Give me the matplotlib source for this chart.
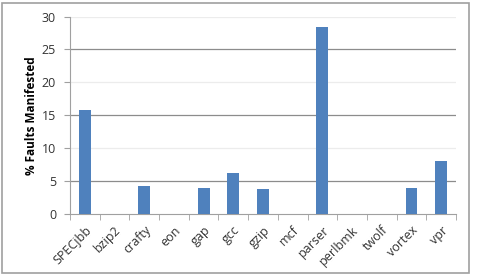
import matplotlib
matplotlib.use("Agg")
import matplotlib.pyplot as plt
from matplotlib.patches import Rectangle

benchmarks = ['SPECjbb', 'bzip2', 'crafty', 'eon', 'gap', 'gcc', 'gzip',
              'mcf', 'parser', 'perlbmk', 'twolf', 'vortex', 'vpr']
faults = [15.8, 0, 4.2, 0, 3.9, 6.2, 3.8, 0, 28.4, 0, 0, 3.9, 8.1]
yticks = [0, 5, 10, 15, 20, 25, 30]

plt.rcParams['font.family'] = ['Open Sans', 'DejaVu Sans']

fig = plt.figure(figsize=(4.78, 2.76), dpi=100)
ax = fig.add_axes([70 / 478, 1 - 214 / 276, (456 - 70) / 478, (214 - 16.5) / 276])

# outer chart frame
fig.patches.append(Rectangle((2 / 478, 3 / 276), 467 / 478, 270 / 276,
                             transform=fig.transFigure, fill=False,
                             edgecolor='#a0a0a0', linewidth=1.2))

x = range(len(benchmarks))
ax.bar(x, faults, width=0.4, color='#4f81bd', zorder=3)

ax.set_xlim(-0.5, len(benchmarks) - 0.5)
ax.set_ylim(0, 30)
ax.set_yticks(yticks)
ax.set_yticklabels([str(v) for v in yticks], fontsize=9, color='#333333')

# gridlines: darker at 5/15/25, faint at 10/20/30
for v in yticks[1:]:
    c = '#8c8c8c' if v % 10 == 5 else '#ececec'
    ax.axhline(v, color=c, linewidth=0.9, zorder=1)

ax.set_xticks(x)
ax.set_xticklabels(benchmarks, rotation=45, ha='right', rotation_mode='anchor',
                   fontsize=9, color='#333333')
ax.tick_params(axis='x', length=0, pad=7)
ax.set_xticks([i + 0.5 for i in range(-1, len(benchmarks))], minor=True)
ax.tick_params(axis='x', which='minor', length=4, color='#a0a0a0', direction='out')
ax.tick_params(axis='y', length=4, color='#a0a0a0', pad=6)

for s in ['top', 'right']:
    ax.spines[s].set_visible(False)
ax.spines['left'].set_color('#a0a0a0')
ax.spines['bottom'].set_color('#a0a0a0')

ax.set_ylabel('% Faults Manifested', fontsize=8.5, fontweight='bold', labelpad=3)

fig.savefig('out.png', dpi=100)
